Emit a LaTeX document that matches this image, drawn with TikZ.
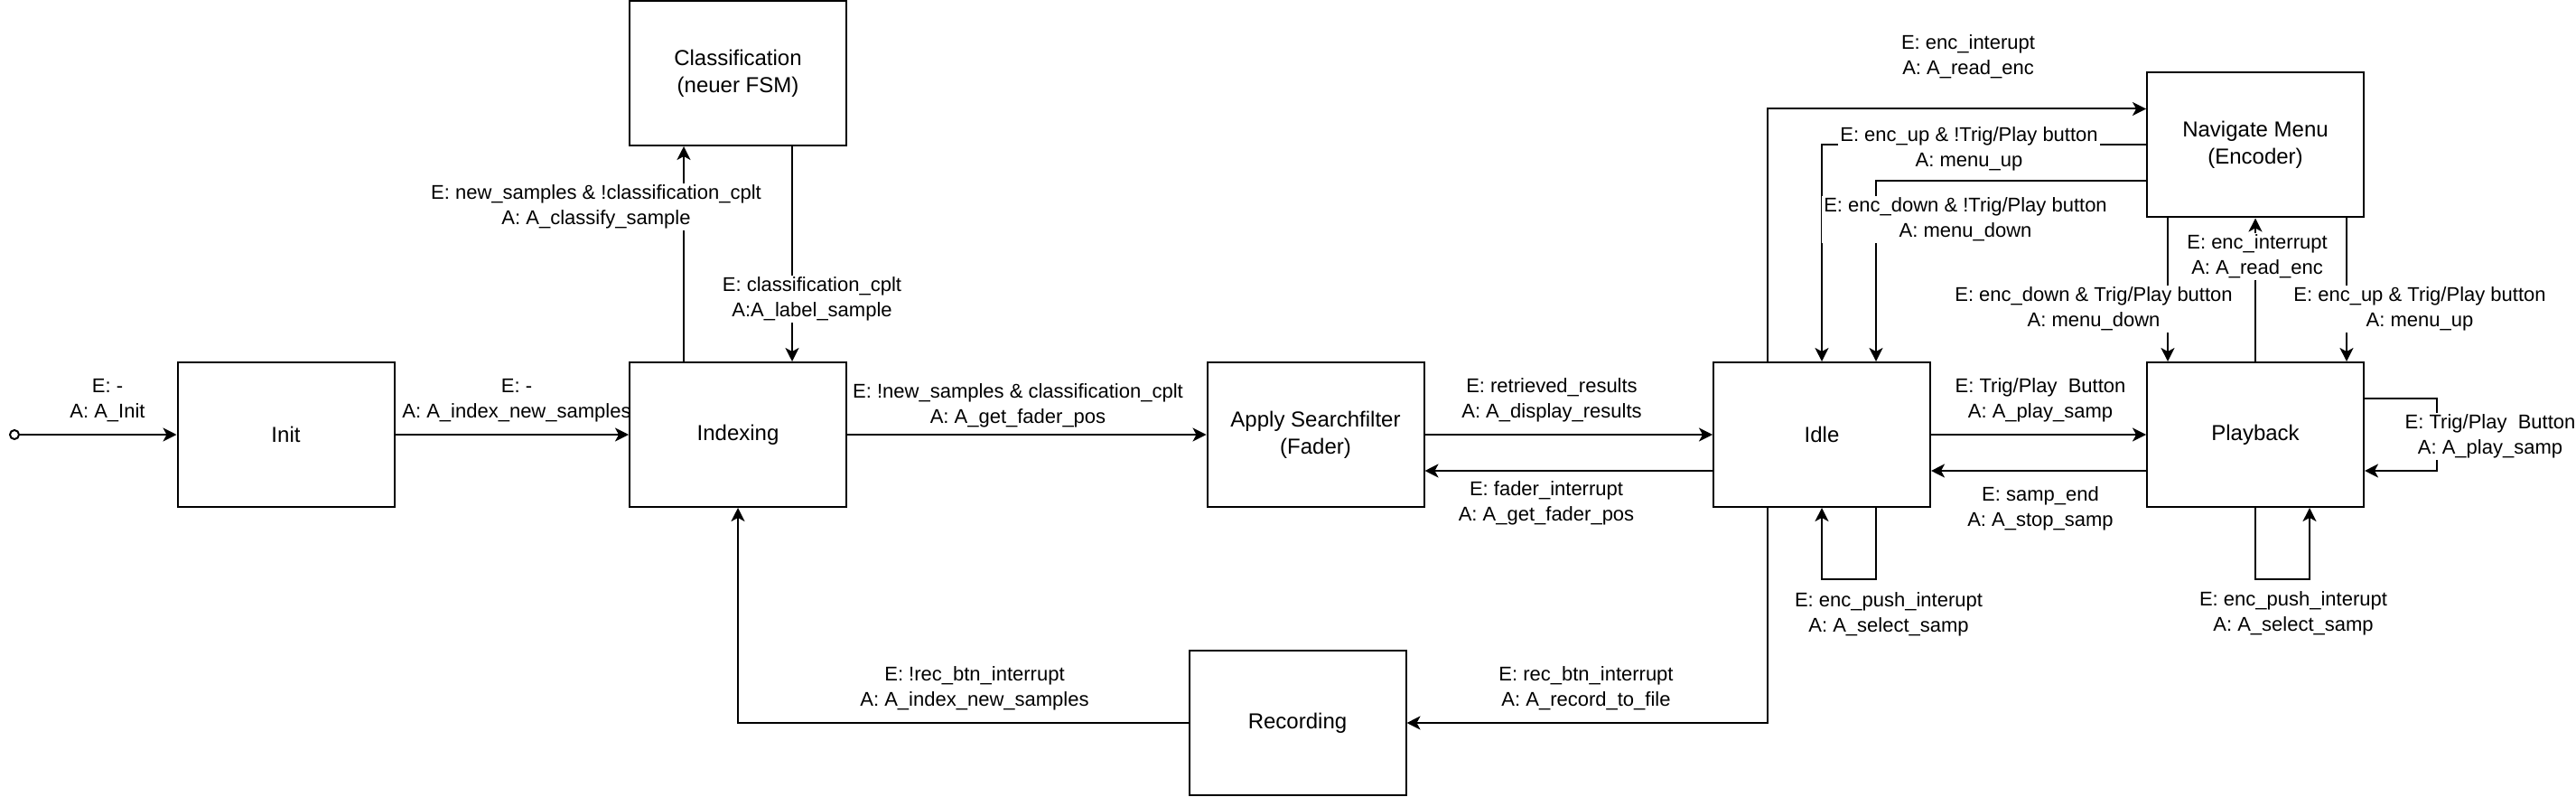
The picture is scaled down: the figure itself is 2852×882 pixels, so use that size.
\documentclass[tikz,border=0pt]{standalone}
\usepackage{fontspec}
\setmainfont{Liberation Sans}
\usetikzlibrary{arrows.meta,calc}
\pgfdeclarelayer{bg}
\pgfsetlayers{bg,main}
\begin{document}
\begin{tikzpicture}[x=0.5pt,y=-0.5pt,
  font=\fontsize{11}{14}\selectfont,
  state/.style={draw, line width=1pt, minimum width=120pt, minimum height=80pt, align=center, inner sep=0pt, font=\fontsize{12}{15}\selectfont},
  lbl/.style={fill=white, align=center, inner sep=1pt},
  arr/.style={-{Stealth[length=7.5pt,width=7.5pt,inset=2pt]}, line width=1pt},
  ln/.style={line width=1pt}]
\useasboundingbox (0,0) rectangle (2852,882);

% states
\node[state] (cls)  at (817,81)      {Classification\\(neuer FSM)};
\node[state] (init) at (316.5,481)   {Init};
\node[state] (idx)  at (817,481)     {Indexing};
\node[state] (app)  at (1456.5,481)  {Apply Searchfilter\\(Fader)};
\node[state] (rec)  at (1436.5,800)  {Recording};
\node[state] (idle) at (2017,481)    {Idle};
\node[state] (play) at (2497,481)    {Playback};
\node[state] (nav)  at (2497,160.5)  {Navigate Menu\\(Encoder)};
\node[circle, draw, line width=1pt, inner sep=0pt, minimum size=5pt] (start) at (16,481) {};

\begin{pgfonlayer}{bg}
% connectors
\draw[arr] (start) -- (init.west);
\draw[arr] (init.east) -- (idx.west);
\draw[arr] ([shift={(-60,0)}]idx.north) -- ([shift={(-60,0)}]cls.south);
\draw[arr] ([shift={(60,0)}]cls.south) -- ([shift={(60,0)}]idx.north);
\draw[arr] (idx.east) -- (app.west);
\draw[arr] (app.east) -- (idle.west);
\draw[arr] ([shift={(0,40)}]idle.west) -- ([shift={(0,40)}]app.east);
\draw[arr] (idle.east) -- (play.west);
\draw[arr] ([shift={(0,40)}]play.west) -- ([shift={(0,40)}]idle.east);
\draw[arr] ([shift={(-60,0)}]idle.north) |- ([shift={(0,-40)}]nav.west);
\draw[arr] (nav.west) -| (idle.north);
\draw[arr] ([shift={(0,40)}]nav.west) -| ([shift={(60,0)}]idle.north);
\draw[arr] ([shift={(24,0)}]nav.south west) -- ([shift={(24,0)}]play.north west);
\draw[arr] ([shift={(-20,0)}]nav.south east) -- ([shift={(-20,0)}]play.north east);
\draw[arr] (play.north) -- (nav.south);
\draw[arr] ([shift={(0,-40)}]play.east) -- ++(80,0) |- ([shift={(0,40)}]play.east);
\draw[arr] ([shift={(60,0)}]idle.south) -- ++(0,79) -| (idle.south);
\draw[arr] (play.south) -- ++(0,79) -| ([shift={(60,0)}]play.south);
\draw[arr] ([shift={(-60,0)}]idle.south) |- (rec.east);
\draw[arr] (rec.west) -| (idx.south);

% labels
\node[lbl] (l1)  at (119,443)   {E: -\\A: A\_Init};
\node[lbl] (l2)  at (572,443)   {E: -\\A: A\_index\_new\_samples};
\node[lbl] (l3)  at (660,229)   {E: new\_samples \& !classification\_cplt\\A: A\_classify\_sample};
\node[lbl] (l4)  at (899,331)   {E: classification\_cplt\\A:A\_label\_sample};
\node[lbl] (l5)  at (1127,449)  {E: !new\_samples \& classification\_cplt\\A: A\_get\_fader\_pos};
\node[lbl] (l6)  at (1718,443)  {E: retrieved\_results\\A: A\_display\_results};
\node[lbl] (l7)  at (1712,557)  {E: fader\_interrupt\\A: A\_get\_fader\_pos};
\node[lbl] (l8)  at (1079,762)  {E: !rec\_btn\_interrupt\\A: A\_index\_new\_samples};
\node[lbl] (l9)  at (1756,762)  {E: rec\_btn\_interrupt\\A: A\_record\_to\_file};
\node[lbl] (l10) at (2179,63)   {E: enc\_interupt\\A: A\_read\_enc};
\node[lbl] (l11) at (2180,165)  {E: enc\_up \& !Trig/Play button\\A: menu\_up};
\node[lbl] (l12) at (2176,243)  {E: enc\_down \& !Trig/Play button\\A: menu\_down};
\node[lbl] (l13) at (2318,342)  {E: enc\_down \& Trig/Play button\\A: menu\_down};
\node[lbl] (l14) at (2679,342)  {E: enc\_up \& Trig/Play button\\A: menu\_up};
\node[lbl] (l15) at (2499,284)  {E: enc\_interrupt\\A: A\_read\_enc};
\node[lbl] (l16) at (2259,443)  {E: Trig/Play\ \ Button\\A: A\_play\_samp};
\node[lbl] (l17) at (2259,563)  {E: samp\_end\\A: A\_stop\_samp};
\node[lbl] (l18) at (2757,483)  {E: Trig/Play\ \ Button\\A: A\_play\_samp};
\node[lbl] (l19) at (2091,680)  {E: enc\_push\_interupt\\A: A\_select\_samp};
\node[lbl] (l20) at (2539,679)  {E: enc\_push\_interupt\\A: A\_select\_samp};
\end{pgfonlayer}
\end{tikzpicture}
\end{document}
